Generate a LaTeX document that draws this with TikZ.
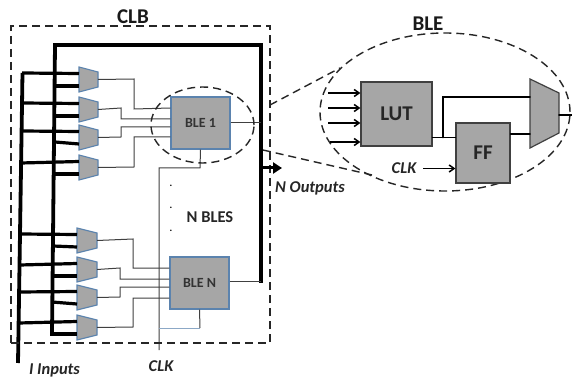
\documentclass[tikz,border=0pt]{standalone}
\usepackage{fontspec}
\setmainfont{Carlito}
\usetikzlibrary{arrows.meta,calc,shapes.geometric}
\definecolor{boxgray}{HTML}{A6A6A6}
\definecolor{edgeblue}{HTML}{5B83AE}
\definecolor{wiregray}{HTML}{404040}
\tikzset{
 bus/.style={line width=3.8pt,black},
 tap/.style={line width=3.2pt,black},
 wire/.style={line width=1pt,wiregray},
 bwire/.style={line width=1.6pt,black,line cap=round},
 dashln/.style={draw=black!85,line width=1.4pt,dash pattern=on 8pt off 5pt},
 blebox/.style={draw=edgeblue,line width=1.2pt,fill=boxgray,inner sep=0,font=\bfseries\fontsize{14}{16}\selectfont,text=black!80},
 bigbox/.style={draw=black!75,line width=1.2pt,fill=boxgray,inner sep=0,font=\bfseries\fontsize{21}{24}\selectfont,text=black!85},
 lbl/.style={inner sep=0,font=\bfseries\itshape\fontsize{16.5}{19}\selectfont,text=black!85},
 ttl/.style={inner sep=0,font=\bfseries\fontsize{21}{24}\selectfont,text=black!90},
 inarrow/.style={line width=1.5pt,black,-{Straight Barb[length=5pt,width=7pt]}},
 dotnode/.style={inner sep=0,font=\bfseries\fontsize{10}{10}\selectfont},
}
% name, y of top-left corner, left x, right x
\newcommand{\muxshape}[4]{%
 \draw[draw=edgeblue,line width=1.1pt,fill=boxgray] (#3,#2) -- (#4,#2+5) -- (#4,#2+20) -- (#3,#2+25) -- cycle;
 \coordinate (#1o) at (#4,#2+12.5);
 \coordinate (#1a) at (#3,#2+6.5);
 \coordinate (#1b) at (#3,#2+19);
}
\begin{document}
\begin{tikzpicture}[x=1pt,y=-1pt]
\useasboundingbox (0,0) rectangle (572,379);
\clip (0,0) rectangle (572,379);
\fill[white] (0,0) rectangle (572,379);

% BLE 1 / BLE N boxes
\node[blebox,minimum width=59pt,minimum height=52pt] (ble1) at (200.5,123) {BLE 1};
\node[blebox,minimum width=59pt,minimum height=52pt] (blen) at (199.5,283) {BLE N};

% buses
\coordinate (b1top) at (22.5,73);
\coordinate (b1bot) at (18,363);
\coordinate (b2top) at (55,45);
\coordinate (b2bot) at (52,334);
\coordinate (b3top) at (261,45);
\coordinate (b3bot) at (261,281);
\draw[bus] (b1top) -- (b1bot);
\draw[bus,line cap=rect] (b2bot) -- (b2top) -- (b3top) -- (b3bot);

% muxes
\muxshape{m1}{67}{79}{98}
\muxshape{m2}{97}{79}{98}
\muxshape{m3}{125}{79}{98}
\muxshape{m4}{155}{79}{98}
\muxshape{m5}{228}{77}{97}
\muxshape{m6}{257}{77}{97}
\muxshape{m7}{285}{77}{97}
\muxshape{m8}{315}{77}{97}

% bus taps
\draw[tap] (22,73) -- (m1a);
\draw[tap] (55,86) -- (m1b);
\draw[tap] (22,103) -- (m2a);
\draw[tap] (55,116) -- (m2b);
\draw[tap] (22,131) -- (m3a);
\draw[tap] (55,142) -- (m3b);
\draw[tap] (21,163) -- (m4a);
\draw[tap] (54,174) -- (m4b);
\draw[tap] (20,234) -- (m5a);
\draw[tap] (53,246) -- (m5b);
\draw[tap] (20,265) -- (m6a);
\draw[tap] (53,276) -- (m6b);
\draw[tap] (19,292) -- (m7a);
\draw[tap] (52,302) -- (m7b);
\draw[tap] (19,323) -- (m8a);
\draw[tap] (52,334) -- (m8b);

% wires to BLE 1
\draw[wire] (m1o) -- (134,79) -- (134,109) -- (ble1.west |- 0,108);
\draw[wire] (m2o) -- (121,108) -- (121,119) -- (ble1.west |- 0,119);
\draw[wire] (m3o) -- (121,137) -- (121,127) -- (ble1.west |- 0,127);
\draw[wire] (m4o) -- (134,167) -- (134,137) -- (ble1.west |- 0,137);
\draw[wire] (ble1.east) -- (b3top |- ble1.east);
% wires to BLE N
\draw[wire] (m5o) -- (133,239) -- (133,268) -- (blen.west |- 0,268);
\draw[wire] (m6o) -- (120,268) -- (120,279) -- (blen.west |- 0,279);
\draw[wire] (m7o) -- (120,297) -- (120,287) -- (blen.west |- 0,287);
\draw[wire] (m8o) -- (133,327) -- (133,298) -- (blen.west |- 0,298);
\draw[wire] (blen.east |- b3bot) -- (b3bot);

% clock
\coordinate (clkend) at (159,350);
\coordinate (clkjoin) at (159,328);
\draw[wire] (ble1.south) -- (200,168) -- (159,168) -- (clkend);
\draw[wire] (blen.south) -- (200,328);
\draw[line width=0.8pt,color=edgeblue!70] (200,328) -- (clkjoin);

% CLB outline, zoom ellipse
\node[dashln,minimum width=259pt,minimum height=317pt,inner sep=0] (clb) at (140.5,184.5) {};
\node[dashln,ellipse,inner sep=0,minimum width=103pt,minimum height=76pt] (zoomsmall) at (202.5,125) {};

% N outputs arrow
\coordinate (outs) at (261,168);
\coordinate (oute) at (282,168);
\draw[line width=3pt,-{Triangle[length=9pt,width=11pt]}] (outs) -- (oute);

% big BLE
\node[dashln,ellipse,minimum width=250pt,minimum height=158pt,inner sep=0] (bigell) at (445,112) {};
\coordinate (za) at (270,105);
\coordinate (zb) at (340,68);
\coordinate (zc) at (263,150);
\coordinate (zd) at (372,175);
\draw[dashln] (za) -- (zb);
\draw[dashln] (zc) -- (zd);

\node[bigbox,minimum width=71pt,minimum height=64pt] (lut) at (396.5,114) {LUT};
\node[bigbox,minimum width=54pt,minimum height=60pt] (ff) at (483,153) {FF};
\draw[draw=black!75,line width=1.2pt,fill=boxgray] (530,79) -- (559,93) -- (559,133) -- (530,148) -- cycle;
\coordinate (bmo) at (559,115);
\coordinate (bmt) at (530,97);
\coordinate (bmb) at (530,134);
\coordinate (bout) at (572,115);
\coordinate (branch) at (443,137.5);

\foreach \y/\x in {93/328,108/328,123/328,142/330}{
 \draw[inarrow] (\x,\y) -- (lut.west |- 0,\y);
}
\draw[bwire] (lut.east |- branch) -- (ff.west |- branch);
\draw[bwire] (branch) -- (branch |- bmt) -- (bmt);
\draw[bwire] (ff.east |- bmb) -- (bmb);
\draw[bwire] (bmo) -- (bout);

% labels
\node[ttl] (clbt) at (133,17) {CLB};
\node[ttl] (blet) at (428,24) {BLE};
\node[lbl] (clkb) at (404,168.5) {CLK};
\coordinate (clka) at (423,168.5);
\draw[inarrow] (clka) -- (ff.west |- clka);
\node[lbl] (outl) at (310,188) {N Outputs};
\node[lbl] (inl) at (54.5,370.5) {I Inputs};
\node[lbl] (clkl) at (161,366) {CLK};
\node[inner sep=0,font=\bfseries\fontsize{16.5}{19}\selectfont,text=black!85] (nb) at (210,217) {N BLES};
\node[dotnode] (d1) at (171,186) {.};
\node[dotnode] (d2) at (171,208) {.};
\node[dotnode] (d3) at (171,231) {.};
\end{tikzpicture}
\end{document}
